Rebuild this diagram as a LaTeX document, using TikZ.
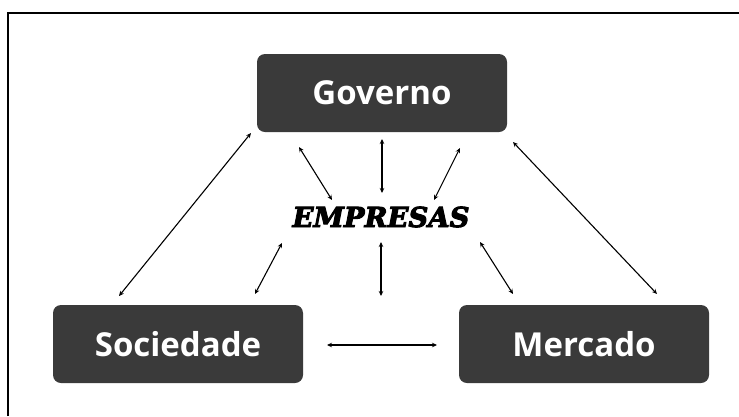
\documentclass[tikz,border=0pt]{standalone}
\usepackage{fontspec}
\usepackage{tikz}
\usetikzlibrary{arrows.meta}
\newfontfamily\boxfont{Open Sans}
\newfontfamily\empfont{DejaVu Serif}[BoldItalicFeatures={FakeBold=3.5}]
\definecolor{boxgray}{HTML}{3A3A3A}

\begin{document}
\begin{tikzpicture}[
		x=1pt, y=-1pt
		,box/.style={rectangle, rounded corners=8pt, fill=boxgray, text=white, minimum width=250pt, minimum height=78pt, font=\boxfont\bfseries\fontsize{33}{33}\selectfont}
		,emp/.style={font=\empfont\bfseries\itshape\fontsize{27.5}{27.5}\selectfont}
		,arr/.style={{Stealth[length=5pt,width=4.5pt]}-{Stealth[length=5pt,width=4.5pt]}, line width=1.1pt}
	]
	\useasboundingbox (0,0) rectangle (739,416);
	\draw [line width=1.4pt] (8,416) -- (8,13) -- (739,13);

	\node [box] (gov) at (382,93) {Governo};
	\node [box] (soc) at (178,344) {Sociedade};
	\node [box] (mer) at (584,344) {Mercado};
	\node [emp] (empresas) at (381,217) {EMPRESAS};

	% ends of the arrows
	\coordinate (gs1) at (251,133); \coordinate (gs2) at (119,296);
	\coordinate (gm1) at (513,142); \coordinate (gm2) at (657,294);
	\coordinate (ge1) at (299,147); \coordinate (ge2) at (332,200);
	\coordinate (ge3) at (382,139); \coordinate (ge4) at (382,193);
	\coordinate (ge5) at (460,148); \coordinate (ge6) at (434,200);
	\coordinate (se1) at (282,243); \coordinate (se2) at (255,294);
	\coordinate (ce1) at (381,242); \coordinate (ce2) at (381,296);
	\coordinate (me1) at (480,242); \coordinate (me2) at (513,294);
	\coordinate (sm1) at (327,345); \coordinate (sm2) at (437,345);

	\draw [arr] (gs1) -- (gs2);
	\draw [arr] (gm1) -- (gm2);
	\draw [arr] (ge1) -- (ge2);
	\draw [arr] (ge3) -- (ge4);
	\draw [arr] (ge5) -- (ge6);
	\draw [arr] (se1) -- (se2);
	\draw [arr] (ce1) -- (ce2);
	\draw [arr] (me1) -- (me2);
	\draw [arr] (sm1) -- (sm2);
\end{tikzpicture}
\end{document}
